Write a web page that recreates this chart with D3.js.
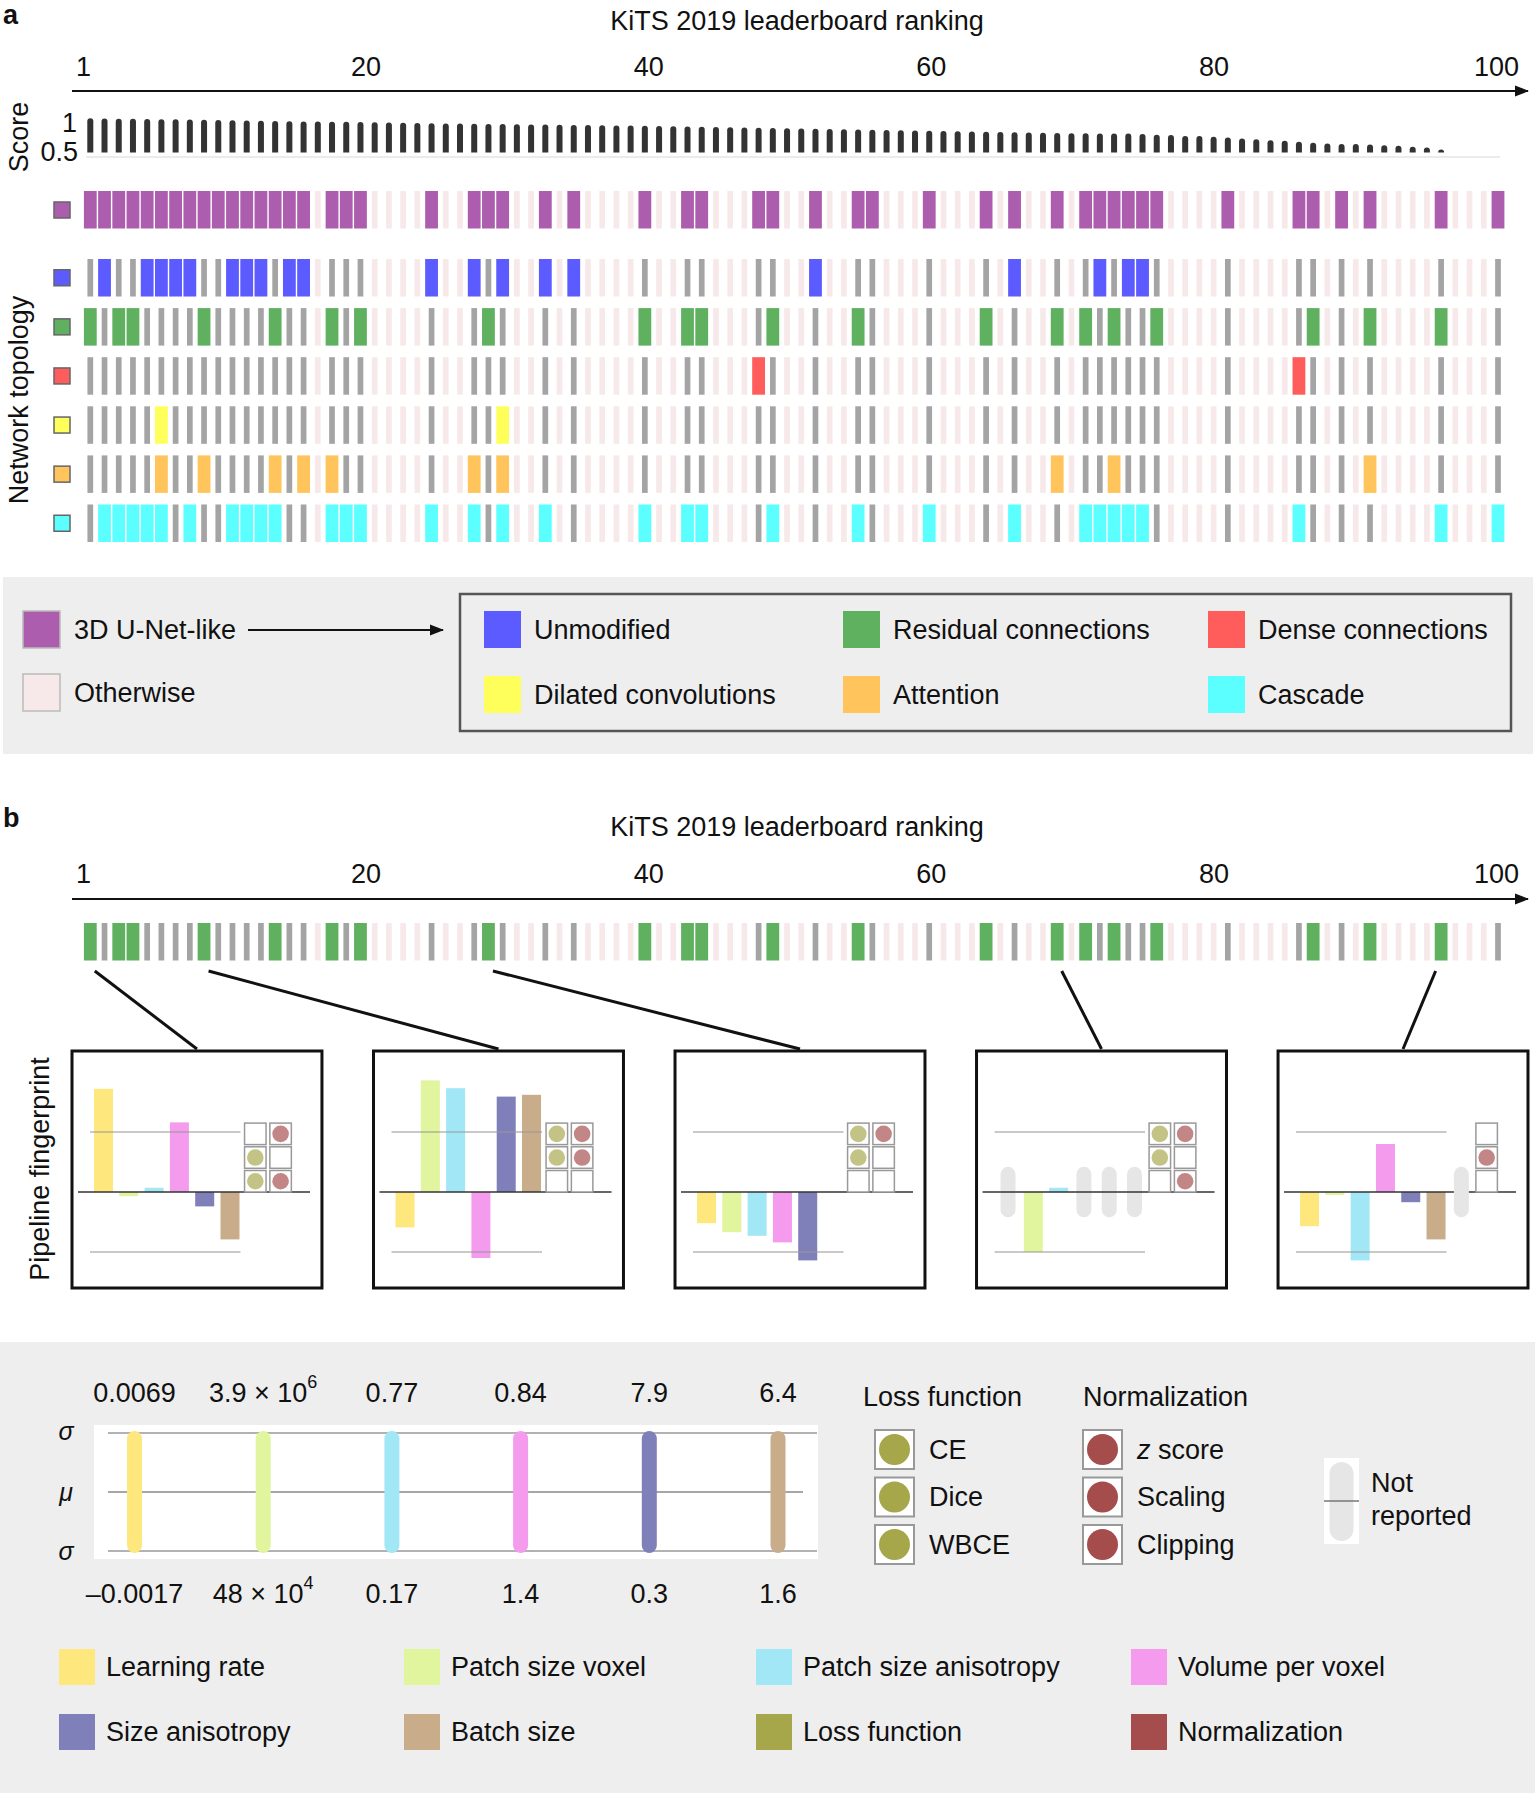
<!DOCTYPE html>
<html><head><meta charset="utf-8">
<script src="https://cdn.jsdelivr.net/npm/d3@7"></script>
<style>
body{margin:0;background:#fff}
svg{display:block}
text{font-family:"Liberation Sans",Arial,Helvetica,sans-serif;fill:#111}
</style>
</head><body>
<svg id="chart" width="1535" height="1793"></svg>
<script>
// ---------------- DATA ----------------
const tickPositions = [0, 20, 40, 60, 80, 100];
const tickLabels = ["1", "20", "40", "60", "80", "100"];
const scores = [
  0.912,0.910,0.908,0.906,0.904,0.902,0.900,0.898,0.895,0.892,
  0.889,0.886,0.883,0.880,0.877,0.875,0.873,0.871,0.869,0.867,
  0.865,0.862,0.859,0.856,0.853,0.850,0.848,0.846,0.844,0.842,
  0.840,0.838,0.836,0.834,0.832,0.830,0.828,0.826,0.824,0.822,
  0.820,0.817,0.814,0.811,0.808,0.805,0.802,0.799,0.796,0.793,
  0.790,0.787,0.784,0.781,0.778,0.775,0.772,0.769,0.766,0.763,
  0.760,0.757,0.754,0.751,0.748,0.745,0.742,0.739,0.736,0.733,
  0.731,0.730,0.730,0.730,0.722,0.714,0.710,0.698,0.698,0.690,
  0.682,0.670,0.661,0.649,0.641,0.630,0.618,0.609,0.601,0.601,
  0.597,0.588,0.581,0.569,0.561,0.536,0.480,0.450,0.400,0.300
];
const unetRanks = [1,2,3,4,5,6,7,8,9,10,11,12,13,14,15,16,18,19,20,25,28,29,30,33,35,40,43,44,48,49,52,55,56,60,64,66,69,71,72,73,74,75,76,81,86,87,89,91,96,100];
const topologyNames = ["Unmodified","Residual connections","Dense connections","Dilated convolutions","Attention","Cascade"];
const unmodifiedRanks = [2,5,6,7,8,11,12,13,15,16,25,28,30,33,35,52,66,72,74,75];
const residualRanks = [1,3,4,9,14,18,20,29,40,43,44,49,55,64,69,71,73,76,87,91,96];
const denseRanks = [48,86];
const dilatedRanks = [6,30];
const attentionRanks = [6,9,14,16,18,28,30,69,73,91];
const cascadeRanks = [2,3,4,5,6,8,11,12,13,14,18,19,20,25,28,30,33,40,43,44,49,55,60,66,71,72,73,74,75,86,96,100];
const topologyRanks = [unmodifiedRanks, residualRanks, denseRanks, dilatedRanks, attentionRanks, cascadeRanks];

const fpRanks = [1, 9, 29, 69, 96];
const fpParams = ["Learning rate","Patch size voxel","Patch size anisotropy","Volume per voxel","Size anisotropy","Batch size"];
const fpValues = [
  [1.72, -0.07, 0.07, 1.16, -0.24, -0.79],
  [-0.59, 1.86, 1.73, -1.10, 1.59, 1.62],
  [-0.52, -0.67, -0.73, -0.84, -1.14, 0],
  [null, -1.00, 0.07, null, null, null],
  [-0.57, -0.05, -1.14, 0.80, -0.17, -0.79]
];
const lossTypes = ["CE","Dice","WBCE"];
const normTypes = ["z score","Scaling","Clipping"];
const fpLoss = [[0,1,1],[1,1,0],[1,1,0],[1,1,0],null];
const fpNorm = [[1,0,1],[1,1,0],[1,0,0],[1,0,1],[0,1,0]];
const sigmaUpperLabels = ["0.0069","3.9 × 10","0.77","0.84","7.9","6.4"];
const sigmaUpperExp = ["","6","","","",""];
const sigmaLowerLabels = ["–0.0017","48 × 10","0.17","1.4","0.3","1.6"];
const sigmaLowerExp = ["","4","","","",""];
const legendItems = ["Learning rate","Patch size voxel","Patch size anisotropy","Volume per voxel","Size anisotropy","Batch size","Loss function","Normalization"];

// ---------------- STYLES ----------------
const FS = 27;
const unetColor = "#ad5dae", otherColor = "#f7e9e9", grayColor = "#a4a4a4";
const topoColors = ["#5b5bff","#5fb05f","#ff5c5c","#ffff5c","#ffc55c","#5cffff"];
const fpColors = ["#fee87e","#e0f59e","#a2e7f6","#f49bee","#7f7fb9","#c9ad8b"];
const lossColor = "#a6a64b", normColor = "#a54d4d";
const legendColors = [...fpColors, lossColor, normColor];

const svg = d3.select("#chart");
const ranks = scores.map((d,i)=>i+1);
const unetSet = new Set(unetRanks);
const x = d3.scaleLinear().domain([1,100]).range([90.3,1498]);
const xTick = d3.scaleLinear().domain([0,100]).range([83,1496]);
const FULLW = 12.8, THINW = 5.7;

svg.append("defs").append("marker")
  .attr("id","arr").attr("viewBox","0 -6 14 12").attr("refX",13).attr("refY",0)
  .attr("markerWidth",14).attr("markerHeight",12).attr("markerUnits","userSpaceOnUse").attr("orient","auto")
  .append("path").attr("d","M0,-5.5L14,0L0,5.5Z").attr("fill","#111");

function rankAxis(yBase, yLine, yTitle, letter, yLetter){
  svg.append("text").attr("x",3).attr("y",yLetter).attr("dominant-baseline","central")
    .attr("font-size",FS).attr("font-weight","bold").text(letter);
  svg.append("text").attr("x",797).attr("y",yTitle).attr("text-anchor","middle")
    .attr("dominant-baseline","central").attr("font-size",FS).text("KiTS 2019 leaderboard ranking");
  const ax = svg.append("g").attr("transform",`translate(0,${yBase})`)
    .call(d3.axisTop(xTick).tickValues(tickPositions).tickSize(0).tickPadding(0)
      .tickFormat((d,i)=>tickLabels[i]));
  ax.select(".domain").remove();
  ax.selectAll("text").attr("font-size",FS).attr("font-family","Liberation Sans, Arial, sans-serif").attr("fill","#111");
  svg.append("line").attr("x1",72).attr("x2",1528).attr("y1",yLine).attr("y2",yLine)
    .attr("stroke","#111").attr("stroke-width",2).attr("marker-end","url(#arr)");
}

function drawCells(g, yTop, h, colorSet, color){
  g.selectAll("rect").data(ranks).join("rect")
    .attr("x", r => x(r) - ((unetSet.has(r) && colorSet.has(r)) ? FULLW/2 : THINW/2))
    .attr("width", r => (unetSet.has(r) && colorSet.has(r)) ? FULLW : THINW)
    .attr("y", yTop).attr("height", h)
    .attr("fill", r => !unetSet.has(r) ? otherColor : (colorSet.has(r) ? color : grayColor));
}

// ---------------- PANEL A ----------------
rankAxis(76, 91, 21, "a", 15);

const yS = d3.scaleLinear().domain([0.5,1]).range([152.5,111]);
svg.append("line").attr("x1",86).attr("x2",1500).attr("y1",157).attr("y2",157).attr("stroke","#e4e4e4").attr("stroke-width",1.5);
function topRounded(x0,y0,w,h,r){
  r = Math.min(r, h, w/2);
  return `M${x0},${y0+h}V${y0+r}Q${x0},${y0} ${x0+r},${y0}H${x0+w-r}Q${x0+w},${y0} ${x0+w},${y0+r}V${y0+h}Z`;
}
svg.append("g").selectAll("path").data(ranks.filter(r=>scores[r-1]>0.5)).join("path")
  .attr("d", r => topRounded(x(r)-3, yS(scores[r-1]), 6, yS(0.5)-yS(scores[r-1]), 3))
  .attr("fill","#333");
svg.append("text").attr("x",77).attr("y",yS(1)+12).attr("text-anchor","end").attr("dominant-baseline","central").attr("font-size",FS).text("1");
svg.append("text").attr("x",78).attr("y",yS(0.5)-1).attr("text-anchor","end").attr("dominant-baseline","central").attr("font-size",FS).text("0.5");
svg.append("text").attr("transform","translate(19,137) rotate(-90)").attr("text-anchor","middle")
  .attr("dominant-baseline","central").attr("font-size",FS).text("Score");

// U-Net row
const unetG = svg.append("g");
drawCells(unetG, 191, 37.5, unetSet, unetColor);
svg.append("rect").attr("x",54).attr("y",210-8).attr("width",16).attr("height",16).attr("fill",unetColor).attr("stroke","#666").attr("stroke-width",1.5);

// topology rows
const yRow = d3.scaleBand().domain(topologyNames).range([259,542]).paddingInner(0.236).paddingOuter(0);
topologyNames.forEach((name,i)=>{
  const g = svg.append("g");
  drawCells(g, yRow(name), yRow.bandwidth(), new Set(topologyRanks[i]), topoColors[i]);
  svg.append("rect").attr("x",54).attr("y",yRow(name)+yRow.bandwidth()/2-8).attr("width",16).attr("height",16)
    .attr("fill",topoColors[i]).attr("stroke","#666").attr("stroke-width",1.5);
});
svg.append("text").attr("transform","translate(19,400) rotate(-90)").attr("text-anchor","middle")
  .attr("dominant-baseline","central").attr("font-size",FS).text("Network topology");

// legend a
svg.append("rect").attr("x",3).attr("y",577).attr("width",1530).attr("height",177).attr("fill","#eeeeee");
svg.append("rect").attr("x",460).attr("y",594).attr("width",1051).attr("height",137).attr("fill","none").attr("stroke","#555").attr("stroke-width",2.5);
[[unetColor,"3D U-Net-like",611],[otherColor,"Otherwise",674]].forEach(([c,t,y])=>{
  svg.append("rect").attr("x",23).attr("y",y).attr("width",37).attr("height",37).attr("fill",c).attr("stroke","#bbb").attr("stroke-width",1.5);
  svg.append("text").attr("x",74).attr("y",y+19).attr("dominant-baseline","central").attr("font-size",FS).text(t);
});
svg.append("line").attr("x1",248).attr("x2",443).attr("y1",630).attr("y2",630).attr("stroke","#111").attr("stroke-width",2).attr("marker-end","url(#arr)");
const legCols = [484, 843, 1208], legRows = [611, 676];
topologyNames.forEach((name,i)=>{
  const col = i%3, row = Math.floor(i/3);
  svg.append("rect").attr("x",legCols[col]).attr("y",legRows[row]).attr("width",37).attr("height",37).attr("fill",topoColors[i]);
  svg.append("text").attr("x",legCols[col]+50).attr("y",legRows[row]+19).attr("dominant-baseline","central").attr("font-size",FS).text(name);
});

// ---------------- PANEL B ----------------
rankAxis(883, 899, 827, "b", 818);
const greenG = svg.append("g");
drawCells(greenG, 923, 37.5, new Set(residualRanks), topoColors[1]);
svg.append("text").attr("transform","translate(40,1169) rotate(-90)").attr("text-anchor","middle")
  .attr("dominant-baseline","central").attr("font-size",FS).text("Pipeline fingerprint");

const boxX = d3.scaleBand().domain(fpRanks).range([72,1528]).paddingInner(0.171).paddingOuter(0);
const BOXTOP = 1051, BOXH = 237;
const slot = d3.scaleBand().domain([...fpParams,"Loss function","Normalization"]).range([22,218.1]).paddingInner(0.249).paddingOuter(0);
const yV = d3.scaleLinear().domain([-1,1]).range([201,81]);

fpRanks.forEach((r,bi)=>{
  const bx = boxX(r);
  const cxBox = bx+boxX.bandwidth()/2;
  const off = cxBox > x(r) + 20 ? 4.5 : (cxBox < x(r) - 20 ? -5.5 : 0);
  svg.append("line").attr("x1",x(r)+off).attr("y1",971).attr("x2",cxBox).attr("y2",BOXTOP-2)
    .attr("stroke","#111").attr("stroke-width",3);
  const g = svg.append("g").attr("transform",`translate(${bx},${BOXTOP})`);
  g.append("rect").attr("width",boxX.bandwidth()).attr("height",BOXH).attr("fill","#fff").attr("stroke","#111").attr("stroke-width",3);
  fpParams.forEach((p,pi)=>{
    const v = fpValues[bi][pi];
    if (v === null){
      g.append("rect").attr("x",slot(p)+2).attr("width",15).attr("y",yV(0.42)).attr("height",yV(-0.42)-yV(0.42)).attr("rx",7.5).attr("fill","#e6e6e6");
    } else if (v !== 0){
      g.append("rect").attr("x",slot(p)).attr("width",slot.bandwidth())
        .attr("y",Math.min(yV(v),yV(0))).attr("height",Math.abs(yV(v)-yV(0))).attr("fill",fpColors[pi]);
    }
  });
  [1,-1].forEach(s=>g.append("line").attr("x1",18).attr("x2",slot(fpParams[5])+slot.bandwidth()+1).attr("y1",yV(s)).attr("y2",yV(s)).attr("stroke","#999").attr("stroke-opacity",0.7).attr("stroke-width",1.5));
  g.append("line").attr("x1",6).attr("x2",238).attr("y1",yV(0)).attr("y2",yV(0)).attr("stroke","#333").attr("stroke-width",1.5);
  [[fpLoss[bi],"Loss function",lossColor],[fpNorm[bi],"Normalization",normColor]].forEach(([arr,key,c])=>{
    const cx = slot(key)+slot.bandwidth()/2;
    if (arr === null){
      g.append("rect").attr("x",cx-7.5).attr("width",15).attr("y",yV(0.42)).attr("height",yV(-0.42)-yV(0.42)).attr("rx",7.5).attr("fill","#e6e6e6");
      return;
    }
    arr.forEach((on,ri)=>{
      const yt = yV(0) - 21.5 - (2-ri)*23.7;
      g.append("rect").attr("x",cx-10.75).attr("y",yt).attr("width",21.5).attr("height",21.5).attr("fill","#fff").attr("stroke","#999").attr("stroke-width",1.5);
      if (on) g.append("circle").attr("cx",cx).attr("cy",yt+10.75).attr("r",8.3).attr("fill",c).attr("fill-opacity",0.68);
    });
  });
});

// legend b
svg.append("rect").attr("x",0).attr("y",1342).attr("width",1535).attr("height",451).attr("fill","#eeeeee");
svg.append("rect").attr("x",94).attr("y",1425).attr("width",724).attr("height",134).attr("fill","#fff");
const xLeg = d3.scalePoint().domain(fpParams).range([134.5,778]);
const yLeg = d3.scaleLinear().domain([-1,1]).range([1551,1433]);
[1,-1].forEach(s=>svg.append("line").attr("x1",108).attr("x2",817).attr("y1",yLeg(s)).attr("y2",yLeg(s)).attr("stroke","#999").attr("stroke-width",1.5));
svg.append("line").attr("x1",108).attr("x2",803).attr("y1",yLeg(0)).attr("y2",yLeg(0)).attr("stroke","#888").attr("stroke-width",1.5);
fpParams.forEach((p,i)=>{
  svg.append("rect").attr("x",xLeg(p)-7.5).attr("width",15).attr("y",yLeg(1)-2).attr("height",yLeg(-1)-yLeg(1)+4).attr("rx",7.5).attr("fill",fpColors[i]);
});
[[sigmaUpperLabels,sigmaUpperExp,1393],[sigmaLowerLabels,sigmaLowerExp,1594]].forEach(([labs,exps,y])=>{
  fpParams.forEach((p,i)=>{
    const t = svg.append("text").attr("x",xLeg(p)).attr("y",y).attr("text-anchor","middle").attr("dominant-baseline","central").attr("font-size",FS);
    t.append("tspan").text(labs[i]);
    if (exps[i]) t.append("tspan").attr("dy",-11).attr("font-size",18).text(exps[i]);
  });
});
[["σ",1431],["μ",1492],["σ",1551]].forEach(([s,y])=>{
  svg.append("text").attr("x",66).attr("y",y).attr("text-anchor","middle").attr("dominant-baseline","central")
    .attr("font-size",25).attr("font-style","italic").attr("font-family","Liberation Serif, DejaVu Serif, serif").text(s);
});

// loss / normalization legend
const yLN = d3.scalePoint().domain([0,1,2]).range([1449.5,1544.5]);
[[lossTypes,"Loss function",875,863,lossColor],[normTypes,"Normalization",1083,1083,normColor]].forEach(([types,title,x0,xt,c])=>{
  svg.append("text").attr("x",xt).attr("y",1397).attr("dominant-baseline","central").attr("font-size",FS).text(title);
  types.forEach((t,i)=>{
    svg.append("rect").attr("x",x0).attr("y",yLN(i)-19.5).attr("width",39).attr("height",39).attr("fill","#fff").attr("stroke","#999").attr("stroke-width",2);
    svg.append("circle").attr("cx",x0+19.5).attr("cy",yLN(i)).attr("r",15.5).attr("fill",c);
    const tx = svg.append("text").attr("x",x0+54).attr("y",yLN(i)).attr("dominant-baseline","central").attr("font-size",FS);
    if (t === "z score"){ tx.append("tspan").attr("font-style","italic").text("z"); tx.append("tspan").text(" score"); }
    else tx.text(t);
  });
});
svg.append("rect").attr("x",1324).attr("y",1458).attr("width",35).attr("height",86).attr("fill","#fff");
svg.append("rect").attr("x",1329.5).attr("y",1462).attr("width",24).attr("height",79).attr("rx",12).attr("fill","#e6e6e6");
svg.append("line").attr("x1",1324).attr("x2",1359).attr("y1",1501).attr("y2",1501).attr("stroke","#777").attr("stroke-width",1.5);
svg.append("text").attr("x",1371).attr("y",1483).attr("dominant-baseline","central").attr("font-size",FS).text("Not");
svg.append("text").attr("x",1371).attr("y",1516).attr("dominant-baseline","central").attr("font-size",FS).text("reported");

// bottom color legend
const legX = [59, 404, 756, 1131], legY = [1667, 1732];
legendItems.forEach((t,i)=>{
  const col = i%4, row = Math.floor(i/4);
  svg.append("rect").attr("x",legX[col]).attr("y",legY[row]-18).attr("width",36).attr("height",36).attr("fill",legendColors[i]);
  svg.append("text").attr("x",legX[col]+47).attr("y",legY[row]).attr("dominant-baseline","central").attr("font-size",FS).text(t);
});
</script>
</body></html>
